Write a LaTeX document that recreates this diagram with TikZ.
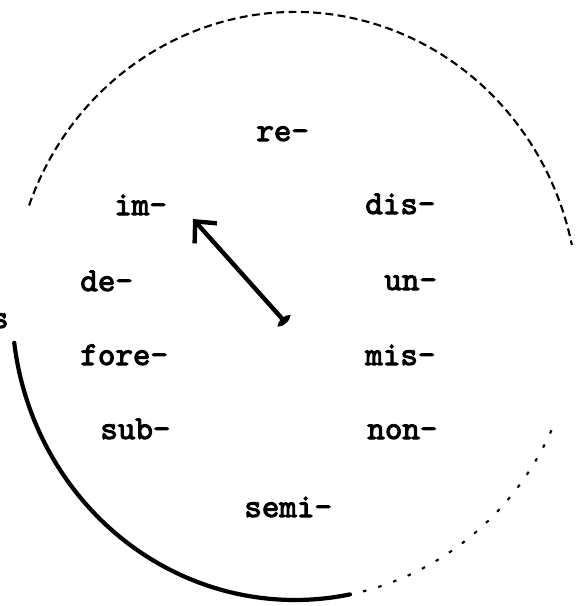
\documentclass[tikz,border=0pt]{standalone}
\usepackage{fontspec}
\setmonofont{lmmono10-regular.otf}[AutoFakeBold=3]
\usepackage{tikz}
\usetikzlibrary{arrows.meta}

\begin{document}
\begin{tikzpicture}[
  x=0.02cm, y=-0.02cm,
  affix/.style={font=\ttfamily\bfseries\fontsize{19}{21}\selectfont,
    inner sep=0pt, anchor=base west},
  rim/.style={line width=2.4pt, line cap=round},
  faint/.style={line width=1.2pt, dash pattern={on 4.5pt off 2.5pt}},
  sparse/.style={line width=1.2pt, dash pattern={on 2pt off 7pt}},
  hand/.style={{Ellipse[length=0.12cm, width=0.3cm]}-{Straight Barb[length=0.32cm, width=0.6cm]},
    line width=2.5pt},
]
\clip (0,0) rectangle (579,606);

% Wheel
\coordinate (ctr) at (295,306);
\draw[rim] (ctr) ++(172.8:283 and 294)
  arc[start angle=172.8, end angle=78.8, x radius=283, y radius=294];
\draw[faint] (ctr) ++(200:283 and 294)
  arc[start angle=200, end angle=348, x radius=283, y radius=294];
\draw[sparse] (ctr) ++(385:283 and 294)
  arc[start angle=385, end angle=438.8, x radius=283, y radius=294];

% Prefixes
\node[affix] (re) at (256,141) {re-};
\node[affix] (im) at (114,215) {im-};
\node[affix] (dis) at (365,214) {dis-};
\node[affix] (de) at (80,291) {de-};
\node[affix] (un) at (384,290) {un-};
\node[affix] (fore) at (80,365) {fore-};
\node[affix] (mis) at (365,365) {mis-};
\node[affix] (sub) at (100,439) {sub-};
\node[affix] (non) at (367,439) {non-};
\node[affix] (semi) at (244,517) {semi-};
\node[affix, anchor=base east] (s) at (9,328) {s};

% Pointer
\coordinate (hub) at (286,323);
\coordinate (tip) at (193,219);
\draw[hand] (hub) -- (tip);

\end{tikzpicture}
\end{document}
